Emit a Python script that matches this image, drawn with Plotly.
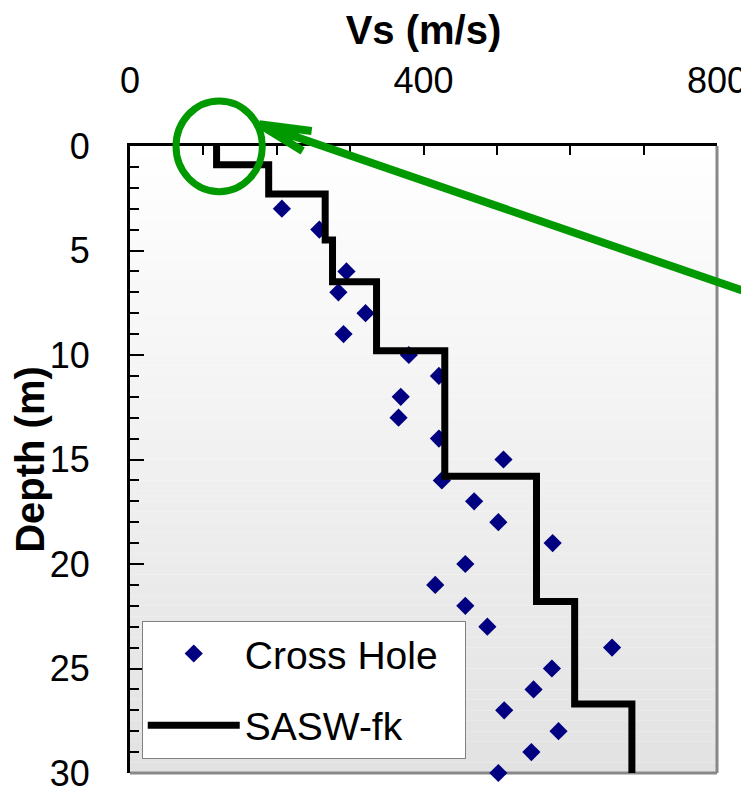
import plotly.graph_objects as go

# Cross hole measurements (depth in m, Vs in m/s)
ch_depth = [3, 4, 6, 7, 8, 9, 10, 11, 12, 13, 14, 15, 16, 17, 18, 19, 20,
            21, 22, 23, 24, 25, 26, 27, 28, 29, 30]
ch_vs = [207, 258, 295, 284, 321, 291, 380, 421, 369, 366, 421, 509, 425,
         469, 502, 576, 457, 416, 457, 487, 657, 575, 550, 510, 584, 547, 502]

# SASW-fk layered profile: top of each layer and its Vs
sasw_top = [0, 0.9, 2.3, 4.5, 6.5, 9.8, 15.8, 21.8, 26.7, 30]
sasw_vs = [118, 189, 266, 276, 336, 429, 554, 606, 684, 684]

x_ticks = [0, 400, 800]
y_ticks = [0, 5, 10, 15, 20, 25, 30]

FONT = "Liberation Sans, Arial, sans-serif"

fig = go.Figure()
fig.add_trace(go.Scatter(x=ch_vs, y=ch_depth, mode='markers', name='Cross Hole\u00a0\u00a0',
                         marker=dict(symbol='diamond', size=14, color='#000080'),
                         cliponaxis=False, legendgroup='a'))
fig.add_trace(go.Scatter(x=sasw_vs, y=sasw_top, mode='lines', name='SASW-fk',
                         line=dict(color='black', width=7, shape='vh'),
                         cliponaxis=False, legendgroup='b'))

# grey gradient background of the plot area
shapes = []
n = 60
for i in range(n):
    g = int(round(255 - (255 - 226) * (i + 0.5) / n))
    shapes.append(dict(type='rect', xref='x domain', yref='y domain', layer='below',
                       x0=0, x1=1, y0=1 - (i + 1) / n, y1=1 - i / n,
                       line=dict(width=0), fillcolor='rgb(%d,%d,%d)' % (g, g, g)))
# grey right and bottom frame
shapes.append(dict(type='line', xref='x domain', yref='y domain', layer='below',
                   x0=1, x1=1, y0=0, y1=1, line=dict(color='#888888', width=3)))
shapes.append(dict(type='line', xref='x domain', yref='y domain', layer='below',
                   x0=0, x1=1, y0=0, y1=0, line=dict(color='#888888', width=3)))
# green circle and arrow
green = '#009900'
shapes.append(dict(type='circle', xref='paper', yref='paper',
                   x0=0.0784, x1=0.2254, y0=0.9271, y1=1.0718,
                   line=dict(color=green, width=7)))
shapes.append(dict(type='path', xref='paper', yref='paper',
                   path='M1.0733,0.7598 L0.2203,1.0346 M0.3095,1.0239 L0.2203,1.0346 L0.2942,0.9920',
                   line=dict(color=green, width=8)))

fig.update_layout(
    width=749, height=790,
    margin=dict(l=122, r=40, t=138, b=25),
    paper_bgcolor='white', plot_bgcolor='white',
    font=dict(family=FONT, size=36, color='black'),
    shapes=shapes,
    showlegend=True,
    legend=dict(x=0.02, y=0.243, xanchor='left', yanchor='top',
                bgcolor='white', bordercolor='#808080', borderwidth=1,
                font=dict(size=39), itemwidth=92, tracegroupgap=18),
    xaxis=dict(side='top', range=[0, 800], tickvals=x_ticks, automargin=False,
               ticks='inside', ticklen=9, tickwidth=2, tickcolor='black',
               minor=dict(dtick=100, ticks='inside', ticklen=9, tickwidth=2, tickcolor='black'),
               showline=True, linecolor='black', linewidth=3, showgrid=False, zeroline=False,
               ticklabelstandoff=36,
               title=dict(text='<b>Vs (m/s)</b>', font=dict(size=40), standoff=12)),
    yaxis=dict(range=[30, 0], tickvals=y_ticks, automargin=False,
               ticks='inside', ticklen=14, tickwidth=2, tickcolor='black',
               minor=dict(dtick=1, ticks='inside', ticklen=9, tickwidth=2, tickcolor='black'),
               showline=True, linecolor='black', linewidth=3, showgrid=False, zeroline=False,
               ticklabelstandoff=30,
               title=dict(text='<b>Depth (m)</b>', font=dict(size=40), standoff=5)),
)

fig.write_html("out.html")
